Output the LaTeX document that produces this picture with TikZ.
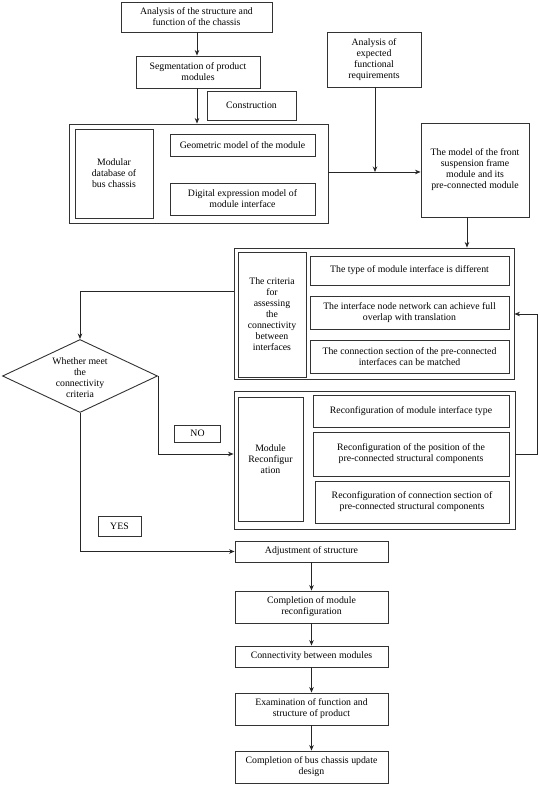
\documentclass[tikz,border=0pt]{standalone}
\usepackage{fontspec}
\setmainfont{Liberation Serif}
\usetikzlibrary{shapes.geometric,arrows.meta}
\begin{document}
\begin{tikzpicture}[x=1pt,y=-1pt,
  box/.style={draw=black!80, line width=0.9pt, align=center, inner sep=1pt, font=\fontsize{9.8}{11}\selectfont},
  frame/.style={draw=black!80, line width=0.9pt, inner sep=0pt},
  txt/.style={align=center, inner sep=0pt, font=\fontsize{9.8}{11}\selectfont},
  ln/.style={draw=black!85, line width=0.8pt},
  arr/.style={ln, -{Stealth[length=5.5pt,width=4.5pt]}}]
\useasboundingbox (0,0) rectangle (539,786);
\fill[white] (0,0) rectangle (539,786);

% top
\node[box, minimum width=151pt, minimum height=30pt] (A) at (196.5,17) {Analysis of the structure and\\function of the chassis};
\node[box, minimum width=124pt, minimum height=32pt] (Seg) at (198,72) {Segmentation of product\\modules};
\node[box, minimum width=89pt, minimum height=29pt] (Cons) at (251.5,105.5) {Construction};
\node[box, minimum width=94pt, minimum height=55pt] (Exp) at (374,59.5) {Analysis of\\expected\\functional\\requirements};

% modular database
\node[frame, minimum width=259pt, minimum height=99pt] (Big) at (198.5,173.5) {};
\node[box, minimum width=78pt, minimum height=89pt] (Mod) at (114,173.5) {Modular\\database of\\bus chassis};
\node[box, minimum width=145pt, minimum height=22pt] (Geo) at (242.5,145) {Geometric model of the module};
\node[box, minimum width=145pt, minimum height=32pt] (Dig) at (242.5,199) {Digital expression model of\\module interface};

\node[box, minimum width=108pt, minimum height=94pt] (Front) at (475,170) {The model of the front\\suspension frame\\module and its\\pre-connected module};

% criteria
\node[frame, minimum width=280pt, minimum height=131pt] (CritO) at (374,313.5) {};
\node[box, minimum width=68pt, minimum height=125pt] (CritL) at (272,314.5) {The criteria\\for\\assessing\\the\\connectivity\\between\\interfaces};
\node[box, minimum width=199pt, minimum height=29pt] (Type) at (409.5,270.5) {The type of module interface is different};
\node[box, minimum width=199pt, minimum height=33pt] (Intf) at (409.5,312.5) {The interface node network can achieve full\\overlap with translation};
\node[box, minimum width=199pt, minimum height=33pt] (Conn) at (409.5,356.5) {The connection section of the pre-connected\\interfaces can be matched};

% decision
\node[diamond, draw=black!80, line width=0.9pt, minimum width=155pt, minimum height=73pt, inner sep=0pt] (dia) at (80,376) {};
\node[txt] (diat) at (80,378) {Whether meet\\the\\connectivity\\criteria};

\node[box, minimum width=46pt, minimum height=17pt] (No) at (197.5,433.5) {NO};
\node[box, minimum width=43pt, minimum height=20pt] (Yes) at (119.5,526) {YES};

% reconfiguration
\node[frame, minimum width=281pt, minimum height=138pt] (RecO) at (374.5,460) {};
\node[box, minimum width=65pt, minimum height=124pt] (RecL) at (270.5,459) {Module\\Reconfigur\\ation};
\node[box, minimum width=196pt, minimum height=32pt] (R1) at (411,411) {Reconfiguration of module interface type};
\node[box, minimum width=196pt, minimum height=44pt] (R2) at (411,454) {Reconfiguration of the position of the\\pre-connected structural components};
\node[box, minimum width=194pt, minimum height=42pt] (R3) at (412,502) {Reconfiguration of connection section of\\pre-connected structural components};

% lower chain
\node[box, minimum width=153pt, minimum height=21pt] (Adj) at (311.5,551.5) {Adjustment of structure};
\node[box, minimum width=153pt, minimum height=32pt] (Comp) at (311.5,607) {Completion of module\\reconfiguration};
\node[box, minimum width=153pt, minimum height=21pt] (Cnty) at (311.5,656.5) {Connectivity between modules};
\node[box, minimum width=153pt, minimum height=32pt] (Exam) at (311.5,709) {Examination of function and\\structure of product};
\node[box, minimum width=153pt, minimum height=32pt] (Fin) at (311.5,767) {Completion of bus chassis update\\design};

% connectors
\coordinate (j) at (375,172);
\coordinate (fb1) at (537,454);
\coordinate (fb2) at (537,314);
\coordinate (sx) at (197,0);
\draw[arr] (sx |- A.south) -- (sx |- Seg.north);
\draw[arr] (sx |- Seg.south) -- (sx |- Big.north);
\draw[arr] (Exp.south -| j) -- (j);
\draw[arr] (Big.east |- j) -- (Front.west |- j);
\draw[arr] ([xshift=-8pt]Front.south) -- ([xshift=-8pt]Front.south |- CritO.north);
\draw[arr] (CritO.west |- 0,291) -| (dia.north);
\draw[arr] (dia.east) |- (RecO.west |- 0,454);
\draw[arr] (RecO.east |- fb1) -- (fb1) -- (fb2) -- (CritO.east |- fb2);
\draw[arr] (dia.south) |- (Adj.west);
\draw[arr] (Adj.south) -- (Comp.north);
\draw[arr] (Comp.south) -- (Cnty.north);
\draw[arr] (Cnty.south) -- (Exam.north);
\draw[arr] (Exam.south) -- (Fin.north);
\end{tikzpicture}
\end{document}
